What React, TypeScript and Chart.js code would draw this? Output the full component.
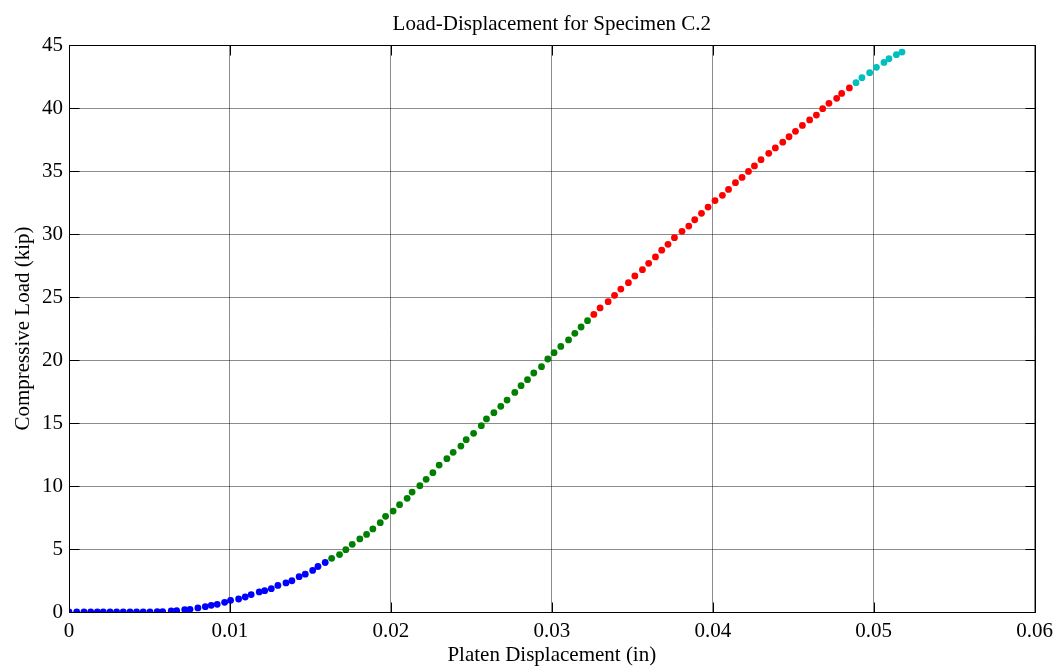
import React, { useEffect, useRef } from "react";
import { Chart, registerables } from "chart.js";

Chart.register(...registerables);

const chartTitle = "Load-Displacement for Specimen C.2";
const xAxisTitle = "Platen Displacement (in)";
const yAxisTitle = "Compressive Load (kip)";

const xTickLabels = ["0", "0.01", "0.02", "0.03", "0.04", "0.05", "0.06"];
const yTickLabels = ["0", "5", "10", "15", "20", "25", "30", "35", "40", "45"];

const blueX = [0.0, 0.00048, 0.00093, 0.00135, 0.00176, 0.00213, 0.00255, 0.00296, 0.00337, 0.00379, 0.0042, 0.00461, 0.00503, 0.00548, 0.00582, 0.00635, 0.00669, 0.00719, 0.00752, 0.00801, 0.00847, 0.00884, 0.00921, 0.00967, 0.01004, 0.01054, 0.01095, 0.01132, 0.01182, 0.01216, 0.01257, 0.01298, 0.01348, 0.01385, 0.0143, 0.01468, 0.01514, 0.01547, 0.01592];
const blueY = [0.0, 0.01, 0.0, 0.01, 0.0, 0.01, 0.0, 0.01, 0.01, 0.0, 0.01, 0.01, 0.01, 0.02, 0.03, 0.08, 0.1, 0.19, 0.21, 0.32, 0.42, 0.53, 0.61, 0.77, 0.93, 1.03, 1.19, 1.38, 1.59, 1.69, 1.85, 2.11, 2.31, 2.48, 2.8, 3.0, 3.3, 3.61, 3.93];

const greenX = [0.01632, 0.01681, 0.0172, 0.0176, 0.01807, 0.01849, 0.01888, 0.01934, 0.01967, 0.02014, 0.02054, 0.02101, 0.02132, 0.0218, 0.02219, 0.02261, 0.023, 0.02348, 0.02387, 0.02435, 0.02468, 0.02514, 0.02562, 0.02594, 0.0264, 0.02683, 0.02722, 0.0277, 0.02809, 0.02849, 0.02888, 0.02936, 0.02975, 0.03014, 0.03056, 0.03104, 0.03143, 0.03182, 0.03222];
const greenY = [4.26, 4.56, 4.95, 5.37, 5.8, 6.16, 6.59, 7.09, 7.59, 8.01, 8.52, 9.02, 9.52, 10.02, 10.53, 11.06, 11.66, 12.17, 12.67, 13.17, 13.68, 14.18, 14.79, 15.32, 15.82, 16.32, 16.82, 17.43, 17.96, 18.44, 18.97, 19.47, 20.08, 20.58, 21.08, 21.59, 22.12, 22.62, 23.12];

const redX = [0.03261, 0.033, 0.0335, 0.0339, 0.03429, 0.03476, 0.03516, 0.03563, 0.03602, 0.03644, 0.03683, 0.03722, 0.03762, 0.03809, 0.03851, 0.03888, 0.0393, 0.03971, 0.04014, 0.0406, 0.04098, 0.04141, 0.04182, 0.04222, 0.04259, 0.043, 0.04348, 0.04389, 0.04435, 0.04474, 0.04514, 0.04557, 0.04602, 0.04644, 0.04683, 0.04722, 0.0477, 0.04801, 0.04849];
const redY = [23.62, 24.13, 24.63, 25.13, 25.63, 26.14, 26.67, 27.17, 27.67, 28.18, 28.72, 29.18, 29.71, 30.21, 30.63, 31.13, 31.64, 32.14, 32.65, 33.07, 33.54, 34.07, 34.49, 34.97, 35.4, 35.9, 36.4, 36.83, 37.29, 37.72, 38.15, 38.62, 39.05, 39.44, 39.95, 40.37, 40.77, 41.16, 41.59];

const cyanX = [0.0489, 0.04927, 0.04975, 0.05017, 0.05064, 0.05095, 0.05141, 0.05176];
const cyanY = [42.01, 42.41, 42.8, 43.23, 43.62, 43.91, 44.23, 44.44];

const FONT = "'Liberation Serif', 'Times New Roman', serif";
const FS = 21;

function pts(xs: number[], ys: number[]) {
  return xs.map((x, i) => ({ x, y: ys[i] }));
}

const framePlugin = {
  id: "frame",
  afterDraw(chart: any) {
    const { ctx, chartArea } = chart;
    const { left, right, top, bottom } = chartArea;
    const xs = chart.scales.x;
    const ys = chart.scales.y;
    ctx.save();
    ctx.strokeStyle = "#000";
    ctx.lineWidth = 1;
    const L = Math.round(left) + 0.5;
    const R = Math.round(right) + 0.5;
    const T = Math.round(top) + 0.5;
    const B = Math.round(bottom) + 0.5;
    ctx.beginPath();
    ctx.rect(L, T, R - L, B - T);
    ctx.stroke();
    const tl = 10;
    ctx.beginPath();
    xs.ticks.forEach((t: any) => {
      const px = Math.round(xs.getPixelForValue(t.value)) + 0.5;
      ctx.moveTo(px, B);
      ctx.lineTo(px, B - tl);
      ctx.moveTo(px, T);
      ctx.lineTo(px, T + tl);
    });
    ys.ticks.forEach((t: any) => {
      const py = Math.round(ys.getPixelForValue(t.value)) + 0.5;
      ctx.moveTo(L, py);
      ctx.lineTo(L + tl, py);
      ctx.moveTo(R, py);
      ctx.lineTo(R - tl, py);
    });
    ctx.stroke();

    ctx.fillStyle = "#000";
    ctx.font = `${FS}px ${FONT}`;
    ctx.textAlign = "center";
    ctx.textBaseline = "alphabetic";
    ctx.fillText(chartTitle, (left + right) / 2, 30);
    ctx.fillText(xAxisTitle, (left + right) / 2, 661);
    ctx.translate(28.5, (top + bottom) / 2);
    ctx.rotate(-Math.PI / 2);
    ctx.fillText(yAxisTitle, 0, 0);
    ctx.restore();
  },
};

export default function App() {
  const ref = useRef<HTMLCanvasElement | null>(null);
  useEffect(() => {
    if (!ref.current) return;
    const mk = (label: string, xs: number[], ys: number[], color: string) => ({
      label,
      data: pts(xs, ys),
      backgroundColor: color,
      borderColor: color,
      pointRadius: 3.4,
      pointBorderWidth: 0,
      showLine: false,
    });
    const chart = new Chart(ref.current, {
      type: "scatter",
      data: {
        datasets: [
          mk("blue", blueX, blueY, "#0000ff"),
          mk("green", greenX, greenY, "#008000"),
          mk("red", redX, redY, "#ff0000"),
          mk("cyan", cyanX, cyanY, "#00bfbf"),
        ],
      },
      options: {
        responsive: false,
        animation: false,
        layout: { padding: { left: 0, top: 45, right: 25, bottom: 0 } },
        plugins: { legend: { display: false }, tooltip: { enabled: false }, title: { display: false } },
        scales: {
          x: {
            type: "linear",
            min: 0,
            max: 0.06,
            afterFit: (s: any) => {
              s.height = 57;
            },
            afterBuildTicks: (s: any) => {
              s.ticks = xTickLabels.map((l) => ({ value: parseFloat(l) }));
            },
            ticks: {
              color: "#000",
              font: { family: FONT, size: FS },
              padding: 7,
              maxRotation: 0,
              callback: (v: any, i: number) => xTickLabels[i],
            },
            grid: { color: "rgba(0,0,0,0.45)", lineWidth: 1, drawTicks: false },
            border: { display: false },
          },
          y: {
            type: "linear",
            min: 0,
            max: 45,
            afterFit: (s: any) => {
              s.width = 69;
            },
            afterBuildTicks: (s: any) => {
              s.ticks = yTickLabels.map((l) => ({ value: parseFloat(l) }));
            },
            ticks: {
              color: "#000",
              font: { family: FONT, size: FS },
              padding: 6,
              callback: (v: any, i: number) => yTickLabels[i],
            },
            grid: { color: "rgba(0,0,0,0.45)", lineWidth: 1, drawTicks: false },
            border: { display: false },
          },
        },
      },
      plugins: [framePlugin],
    });
    return () => chart.destroy();
  }, []);
  return (
    <div style={{ position: "absolute", left: 0, top: 0, width: 1060, height: 669, background: "#fff" }}>
      <canvas ref={ref} width={1060} height={669} style={{ width: 1060, height: 669, display: "block" }} />
    </div>
  );
}
